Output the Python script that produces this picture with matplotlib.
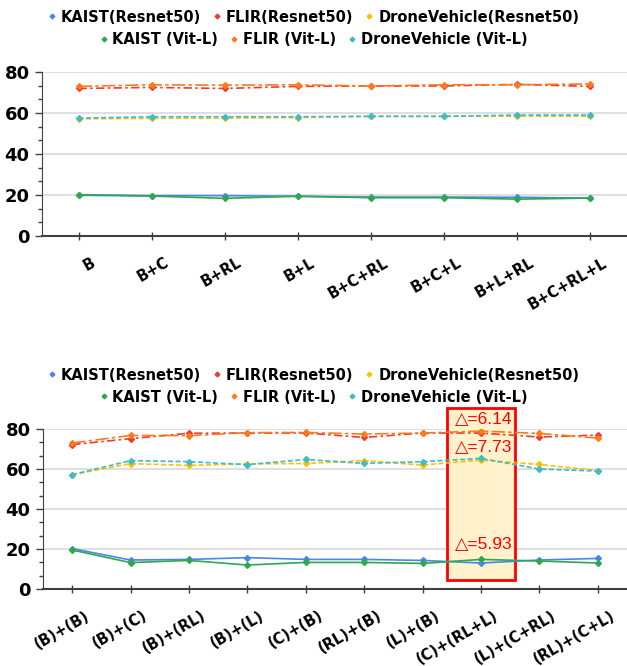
import matplotlib
matplotlib.use("Agg")
import matplotlib.pyplot as plt
from matplotlib.ticker import MultipleLocator
from matplotlib.patches import Rectangle
import matplotlib.transforms as mtransforms

# top chart: single modules added to baseline
top_labels = ['B', 'B+C', 'B+RL', 'B+L', 'B+C+RL', 'B+C+L', 'B+L+RL', 'B+C+RL+L']
top_kaist_res = [20.2, 19.7, 19.7, 19.4, 19.0, 19.0, 18.9, 18.5]
top_flir_res = [72.0, 72.5, 72.0, 73.0, 73.2, 73.2, 74.0, 73.0]
top_drone_res = [57.2, 57.4, 57.5, 57.8, 58.4, 58.4, 58.5, 58.5]
top_kaist_vit = [19.9, 19.5, 18.4, 19.4, 18.7, 18.7, 18.0, 18.5]
top_flir_vit = [73.0, 73.8, 73.6, 73.8, 73.2, 73.8, 73.8, 74.2]
top_drone_vit = [57.5, 58.2, 58.2, 58.2, 58.4, 58.4, 59.0, 59.0]

# bottom chart: module combinations
bot_labels = ['(B)+(B)', '(B)+(C)', '(B)+(RL)', '(B)+(L)', '(C)+(B)', '(RL)+(B)',
              '(L)+(B)', '(C)+(RL+L)', '(L)+(C+RL)', '(RL)+(C+L)']
bot_kaist_res = [20.2, 14.5, 14.8, 15.7, 14.8, 14.8, 14.3, 13.0, 14.5, 15.3]
bot_flir_res = [72.2, 75.2, 77.9, 78.0, 78.0, 75.8, 78.0, 78.0, 76.0, 77.0]
bot_drone_res = [57.2, 62.7, 61.8, 62.6, 62.8, 64.2, 62.0, 64.5, 62.3, 59.2]
bot_kaist_vit = [19.5, 13.2, 14.3, 12.0, 13.3, 13.3, 12.8, 14.8, 14.0, 13.0]
bot_flir_vit = [73.0, 76.8, 76.7, 78.2, 78.3, 77.5, 78.0, 79.0, 77.8, 75.5]
bot_drone_vit = [57.2, 64.2, 63.7, 62.2, 64.8, 62.8, 63.7, 65.3, 60.0, 59.0]

highlight_idx = 7
deltas = ['△=6.14', '△=7.73', '△=5.93']
delta_y = [85, 71, 22.5]

names_res = ['KAIST(Resnet50)', 'FLIR(Resnet50)', 'DroneVehicle(Resnet50)']
names_vit = ['KAIST (Vit-L)', 'FLIR (Vit-L)', 'DroneVehicle (Vit-L)']
colors_res = ['#4A86E8', '#EE3B2F', '#FFC000']
colors_vit = ['#2EA84A', '#FF7A1A', '#3FBCC4']
styles_res = ['-', (0, (5, 2, 1.5, 2)), (0, (3, 1.5))]
styles_vit = ['-', (0, (8, 2, 2, 2)), (0, (3, 1.5))]

plt.rcParams['font.family'] = ['DejaVu Sans']


def draw_panel(fig, rect, labels, res_series, vit_series, legend_y):
    ax = fig.add_axes(rect)
    x = list(range(len(labels)))
    handles_res, handles_vit = [], []
    for ys, c, ls, nm in zip(res_series, colors_res, styles_res, names_res):
        h, = ax.plot(x, ys, color=c, linestyle=ls, lw=1.2, marker='D', ms=3,
                     label=nm, zorder=3)
        handles_res.append(h)
    for ys, c, ls, nm in zip(vit_series, colors_vit, styles_vit, names_vit):
        h, = ax.plot(x, ys, color=c, linestyle=ls, lw=1.2, marker='D', ms=3,
                     label=nm, zorder=3)
        handles_vit.append(h)

    ax.set_xlim(-0.5, len(labels) - 0.5)
    ax.set_ylim(0, 80)
    ax.yaxis.set_major_locator(MultipleLocator(20))
    ax.yaxis.set_minor_locator(MultipleLocator(20 / 3))
    ax.grid(axis='y', color='#D9D9D9', lw=1.2, zorder=0)
    ax.set_axisbelow(True)
    for s in ['top', 'right']:
        ax.spines[s].set_visible(False)
    ax.spines['left'].set_color('#404040')
    ax.spines['bottom'].set_color('#404040')
    ax.spines['bottom'].set_linewidth(1.5)
    ax.tick_params(axis='y', which='major', length=5, width=1, color='#404040',
                   labelsize=13, pad=4)
    ax.tick_params(axis='y', which='minor', length=3, width=1, color='#404040')
    ax.tick_params(axis='x', length=6, width=1, direction='inout', color='#404040')
    for t in ax.get_yticklabels():
        t.set_fontweight('bold')
    ax.set_xticks(x)
    offset = mtransforms.ScaledTranslation(12 / 100, -10 / 100, fig.dpi_scale_trans)
    ax.set_xticklabels(labels, rotation=30, ha='right', va='top',
                       rotation_mode='anchor', fontsize=10.5, fontweight='bold')
    for t in ax.get_xticklabels():
        t.set_transform(t.get_transform() + offset)

    leg_kw = dict(loc='center', ncol=3, frameon=False, handlelength=0.6,
                  handletextpad=0.3, columnspacing=0.8, markerscale=0.8,
                  prop={'weight': 'bold', 'size': 10.5})
    l1 = fig.legend(handles=handles_res, bbox_to_anchor=(0.5, legend_y[0]),
                    bbox_transform=fig.transFigure, **leg_kw)
    l2 = fig.legend(handles=handles_vit, bbox_to_anchor=(0.5, legend_y[1]),
                    bbox_transform=fig.transFigure, **leg_kw)
    for lg in (l1, l2):
        for h in lg.legend_handles:
            h.set_linestyle('')
    return ax


fig = plt.figure(figsize=(6.27, 6.66), dpi=100)

draw_panel(fig, [0.067, 0.6456, 0.933, 0.2462], top_labels,
           [top_kaist_res, top_flir_res, top_drone_res],
           [top_kaist_vit, top_flir_vit, top_drone_vit],
           (1 - 17 / 666, 1 - 40 / 666))

ax2 = draw_panel(fig, [0.0686, 0.1156, 0.9314, 0.2402], bot_labels,
                 [bot_kaist_res, bot_flir_res, bot_drone_res],
                 [bot_kaist_vit, bot_flir_vit, bot_drone_vit],
                 (1 - 375 / 666, 1 - 397 / 666))

# highlighted column
ax2.add_patch(Rectangle((highlight_idx - 0.58, 4.5), 1.16, 86.0, facecolor='#FFF2CC',
                        edgecolor='#FF0000', lw=2, zorder=1, clip_on=False))
for txt, yv in zip(deltas, delta_y):
    ax2.text(highlight_idx - 0.45, yv, txt, color='#FF0000', fontsize=12.5,
             family=['Liberation Sans', 'DejaVu Sans'], ha='left', va='center', zorder=4)

fig.savefig('out.png', dpi=100)
